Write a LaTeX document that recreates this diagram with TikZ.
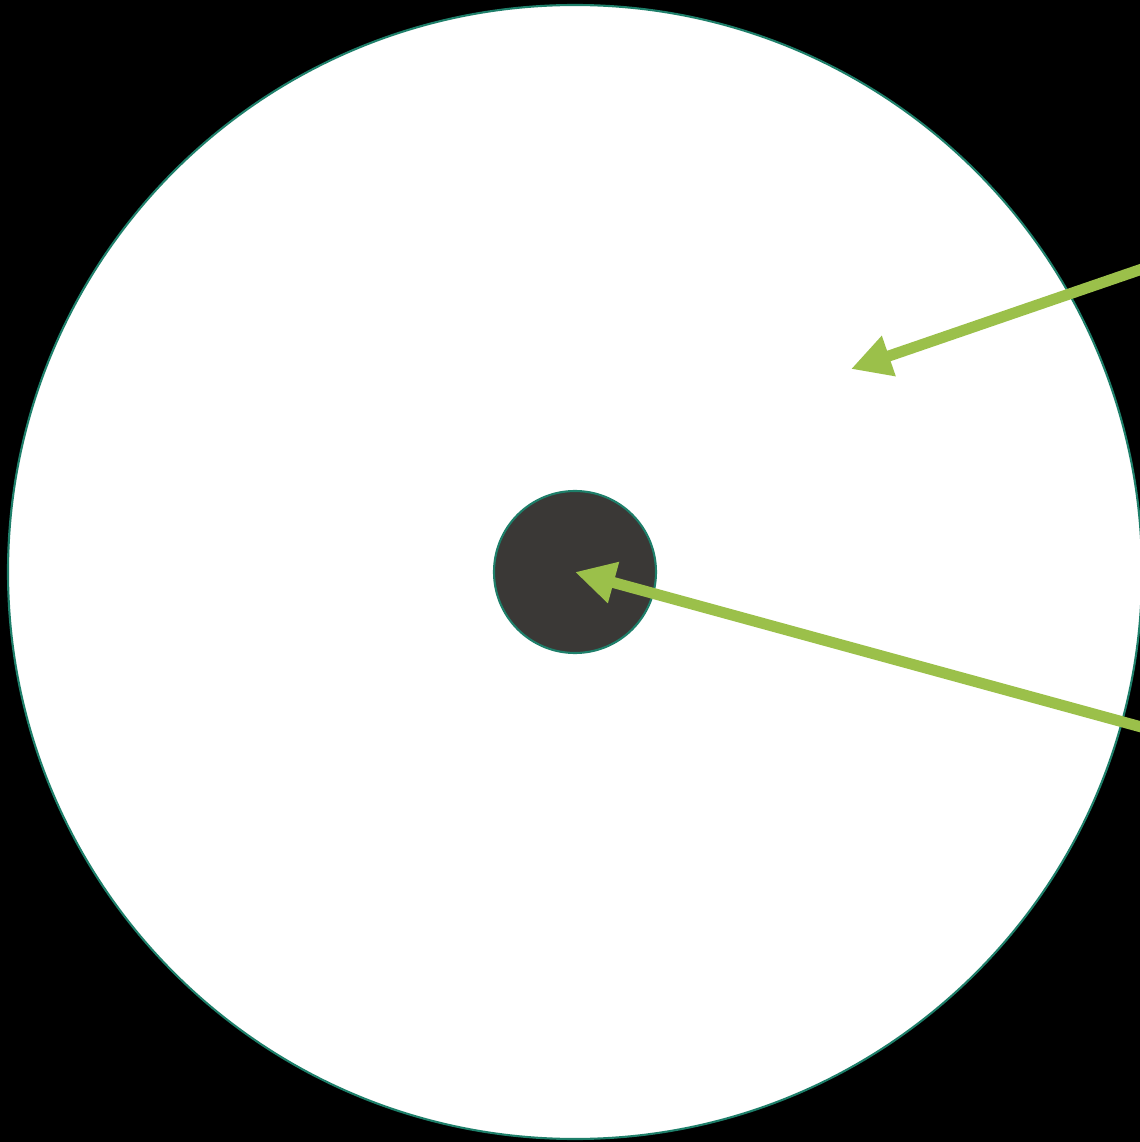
\documentclass[tikz,border=0pt]{standalone}
\usepackage{tikz}
\usetikzlibrary{arrows.meta,positioning,calc}

\definecolor{ringteal}{HTML}{1E7F6A}
\definecolor{coregray}{HTML}{3A3836}
\definecolor{leafgreen}{HTML}{9BC04A}

\begin{document}
\begin{tikzpicture}[
    disc/.style={circle, draw=ringteal, line width=0.6pt, fill=white, inner sep=0pt, minimum size=11.34cm},
    core/.style={circle, draw=ringteal, line width=0.6pt, fill=coregray, inner sep=0pt, minimum size=1.62cm},
    pointer/.style={leafgreen, line width=0.11cm, -{Triangle[length=0.40cm, width=0.40cm]}},
]
  % background
  \fill[black] (0,0) rectangle (11.40,11.42);
  \useasboundingbox (0,0) rectangle (11.40,11.42);

  % circles
  \node[disc] (outer) at (5.75,5.70) {};
  \node[core] (inner) at (outer.center) {};

  % arrow ends
  \coordinate (upperstart) at (11.45,8.74);
  \coordinate (uppertip) at (8.51,7.73);
  \coordinate (lowerstart) at (11.45,4.14);

  % arrows
  \draw[pointer] (upperstart) -- (uppertip);
  \draw[pointer] (lowerstart) -- (inner.center);
\end{tikzpicture}
\end{document}
